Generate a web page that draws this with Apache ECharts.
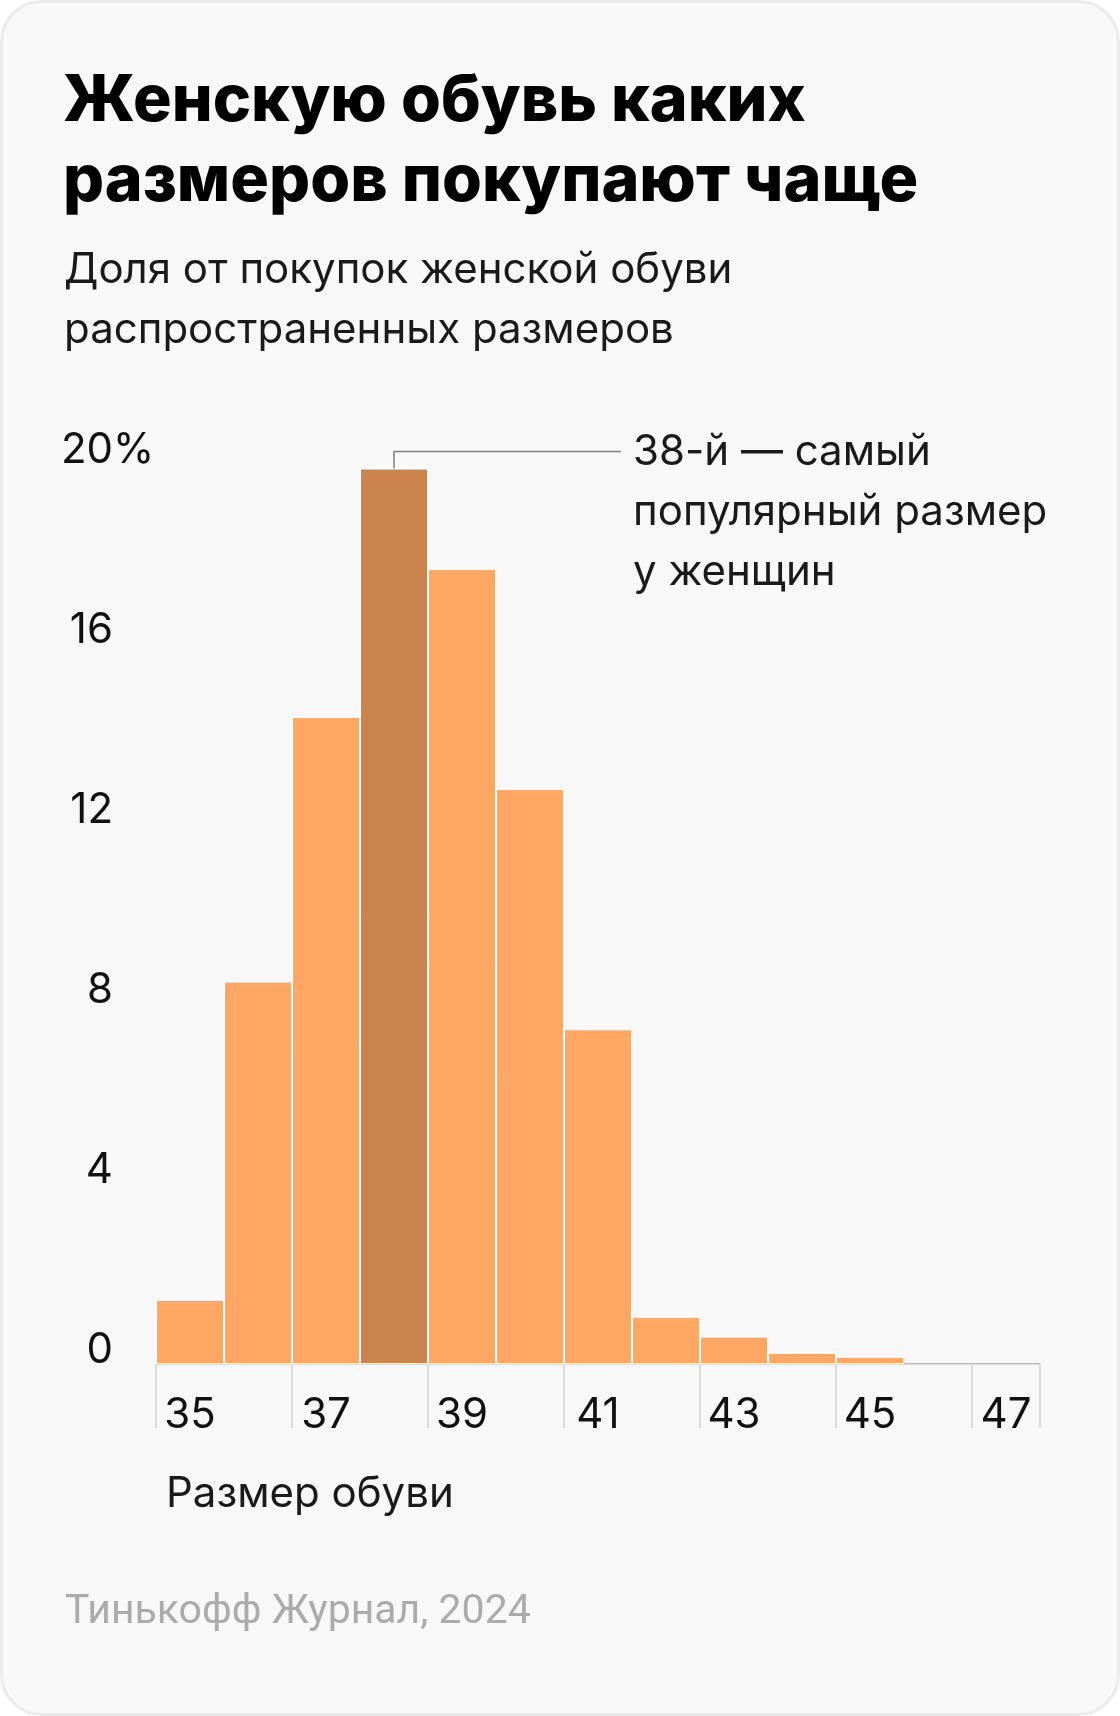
<!DOCTYPE html>
<html>
<head>
<meta charset="utf-8">
<script src="https://cdn.jsdelivr.net/npm/echarts@6/dist/echarts.min.js"></script>
<style>
html,body{margin:0;padding:0;background:#ffffff;}
#chart{width:1120px;height:1716px;}
</style>
</head>
<body>
<div id="chart"></div>
<script>
// Data
const sizes = ['35','36','37','38','39','40','41','42','43','44','45','46','47'];
const shares = [1.43, 8.5, 14.38, 19.9, 17.67, 12.78, 7.44, 1.05, 0.61, 0.25, 0.16, 0.02, 0.02];
const highlightSize = '38';
const yTicks = [0, 4, 8, 12, 16, 20];

const titleText = 'Женскую обувь каких\nразмеров покупают чаще';
const subtitleText = 'Доля от покупок женской обуви\nраспространенных размеров';
const noteText = '38-й — самый\nпопулярный размер\nу женщин';
const xName = 'Размер обуви';
const sourceText = 'Тинькофф Журнал, 2024';

const FONT = 'Inter';
const ORANGE = '#FFA764';
const BROWN = '#CC844F';

const chart = echarts.init(document.getElementById('chart'), null, {renderer: 'canvas'});

const option = {
  animation: false,
  backgroundColor: 'transparent',
  title: [
    {text: titleText, left: 58, top: 57,
     textStyle: {fontFamily: 'Inter', fontWeight: 800, fontSize: 64.5, lineHeight: 80, color: '#000'}},
    {text: subtitleText, left: 59, top: 235,
     textStyle: {fontFamily: FONT, fontWeight: 400, fontSize: 42, lineHeight: 60, color: '#1a1a1a'}},
    {text: xName, left: 161, top: 1459,
     textStyle: {fontFamily: FONT, fontWeight: 400, fontSize: 42, lineHeight: 60, color: '#1a1a1a'}},
    {text: sourceText, left: 60, top: 1578,
     textStyle: {fontFamily: 'Roboto', fontWeight: 400, fontSize: 41, lineHeight: 60, color: '#ababab'}}
  ],
  grid: {left: 156, right: 80, top: 464, bottom: 352, containLabel: false},
  xAxis: {
    type: 'category',
    data: sizes,
    boundaryGap: true,
    axisLine: {show: true, lineStyle: {color: '#dcdcdc', width: 2}},
    axisTick: {show: true, interval: 1, length: 64, lineStyle: {color: '#dcdcdc', width: 2}},
    axisLabel: {show: true, interval: 1, margin: 30, fontFamily: FONT, fontSize: 42, color: '#111'},
    splitLine: {show: false}
  },
  yAxis: {
    type: 'value',
    min: 0, max: 20, interval: 4,
    axisLine: {show: false},
    axisTick: {show: false},
    splitLine: {show: false},
    axisLabel: {
      show: true, margin: 95, align: 'left', verticalAlign: 'middle',
      padding: [0, 0, 27, 0],
      fontFamily: FONT, fontSize: 42, color: '#111',
      formatter: function (v) { return v === yTicks[yTicks.length - 1] ? '{w|' + v + '}{p|%}' : '{w|' + v + '}'; },
      rich: {
        w: {fontFamily: FONT, fontSize: 42, color: '#111', width: 52, align: 'right'},
        p: {fontFamily: FONT, fontSize: 42, color: '#111'}
      }
    }
  },
  series: [{
    type: 'bar',
    barCategoryGap: 0,
    data: shares.map(function (v, i) {
      const hi = sizes[i] === highlightSize;
      return {
        value: v,
        itemStyle: {color: hi ? BROWN : ORANGE, borderColor: '#ffffff', borderWidth: v < 0.1 ? 0 : 1}
      };
    })
  }]
};
chart.setOption(option);

// Annotation leader line anchored to the highlighted bar via the chart's own scales
const hiIdx = sizes.indexOf(highlightSize);
const barTop = chart.convertToPixel({gridIndex: 0}, [hiIdx, shares[hiIdx]]);
const lineY = barTop[1] - 17;
chart.setOption({
  graphic: [
    {type: 'rect', z: -10, silent: true,
     shape: {x: 1.5, y: 1.5, width: 1117, height: 1713, r: 40},
     style: {fill: '#f8f8f8', stroke: '#ebebeb', lineWidth: 3}},
    {type: 'polyline', z: 10, silent: true,
     shape: {points: [[barTop[0], barTop[1]], [barTop[0], lineY], [621, lineY]]},
     style: {stroke: '#808080', lineWidth: 1.5, fill: null}},
    {type: 'text', z: 10, silent: true, left: 633, top: lineY - 29,
     style: {text: noteText, font: '400 42px Inter', lineHeight: 60, fill: '#1a1a1a'}}
  ]
});
</script>
</body>
</html>
